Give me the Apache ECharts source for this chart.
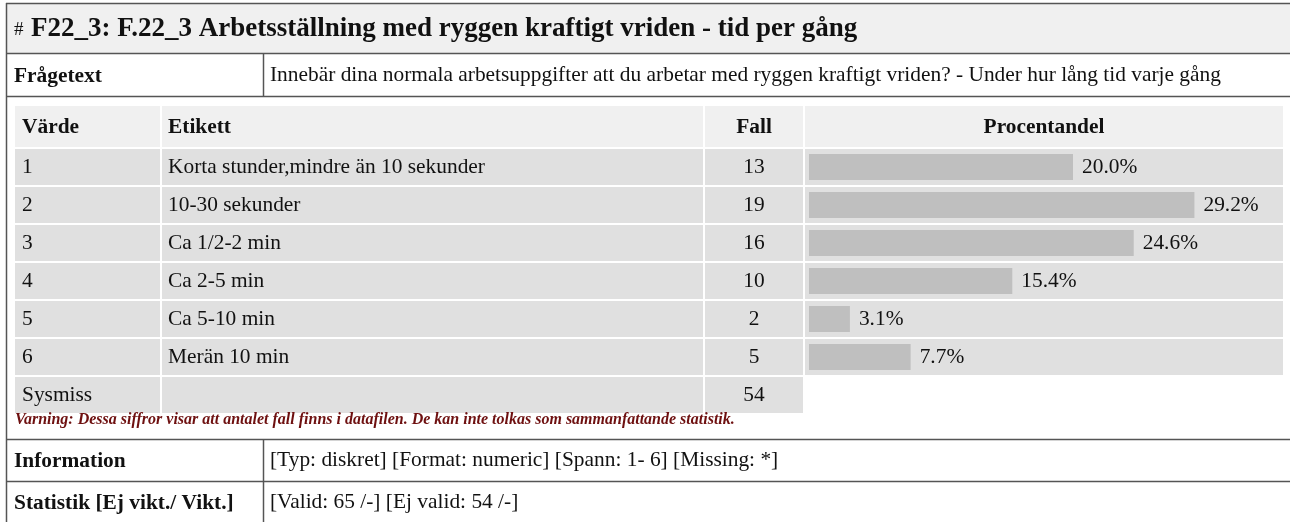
<!DOCTYPE html>
<html>
<head>
<meta charset="utf-8">
<script src="https://cdn.jsdelivr.net/npm/echarts@6/dist/echarts.min.js"></script>
<style>
  html, body { margin: 0; padding: 0; background: #fff; }
  #main { width: 1290px; height: 522px; }
</style>
</head>
<body>
<div id="main"></div>
<script>
// data
var values = ['1', '2', '3', '4', '5', '6'];
var labels = ['Korta stunder,mindre än 10 sekunder', '10-30 sekunder', 'Ca 1/2-2 min', 'Ca 2-5 min', 'Ca 5-10 min', 'Merän 10 min'];
var counts = [13, 19, 16, 10, 2, 5];
var percents = [20.0, 29.2, 24.6, 15.4, 3.1, 7.7];
var sysmiss = 54;

var title = 'F22_3: F.22_3 Arbetsställning med ryggen kraftigt vriden - tid per gång';
var question = 'Innebär dina normala arbetsuppgifter att du arbetar med ryggen kraftigt vriden? - Under hur lång tid varje gång';
var warning = 'Varning: Dessa siffror visar att antalet fall finns i datafilen. De kan inte tolkas som sammanfattande statistik.';
var info = '[Typ: diskret] [Format: numeric] [Spann: 1- 6] [Missing: *]';
var stats = '[Valid: 65 /-] [Ej valid: 54 /-]';

var serif = '"Liberation Serif", "Times New Roman", serif';
var fs = '21.4px ';
var txt = '#111';
var lineCol = '#555';

var chartDom = document.getElementById('main');
var myChart = echarts.init(chartDom, null, { renderer: 'canvas' });

// table geometry
var cols = [
  { x: 15, w: 145 },
  { x: 162, w: 541 },
  { x: 705, w: 98 },
  { x: 805, w: 478 }
];
var headTop = 106, headH = 41, rowTop = 149, rowH = 38;

var g = [];
function rect(x, y, w, h, fill) {
  g.push({ type: 'rect', silent: true, shape: { x: x, y: y, width: w, height: h }, style: { fill: fill } });
}
function line(x1, y1, x2, y2) {
  g.push({ type: 'line', silent: true, shape: { x1: x1, y1: y1, x2: x2, y2: y2 }, style: { stroke: lineCol, lineWidth: 1.5 } });
}
function text(s, x, y, font, align, color) {
  g.push({ type: 'text', silent: true, x: x, y: y, style: {
    text: s, font: font, fill: color || txt, textAlign: align || 'left', textVerticalAlign: 'middle'
  } });
}

// title band + frame
rect(7, 4, 1283, 49, '#f0f0f0');
line(6, 3.5, 1290, 3.5);
line(6.5, 3, 6.5, 522);
line(6, 53.5, 1290, 53.5);
line(6, 96.5, 1290, 96.5);
line(263.5, 53, 263.5, 96);
text('#', 14, 30, '19px ' + serif);
text(title, 31, 29, 'bold 27px ' + serif);
text('Frågetext', 14, 76, 'bold ' + fs + serif);
text(question, 270, 75, fs + serif);

// header row
cols.forEach(function (c) { rect(c.x, headTop, c.w, headH, '#f0f0f0'); });
var hy = headTop + headH / 2 + 1;
text('Värde', 22, hy, 'bold ' + fs + serif);
text('Etikett', 168, hy, 'bold ' + fs + serif);
text('Fall', cols[2].x + cols[2].w / 2, hy, 'bold ' + fs + serif, 'center');
text('Procentandel', cols[3].x + cols[3].w / 2, hy, 'bold ' + fs + serif, 'center');

// data rows
values.forEach(function (v, i) {
  var y = rowTop + i * rowH;
  cols.forEach(function (c) { rect(c.x, y, c.w, rowH - 2, '#e0e0e0'); });
  var cy = y + (rowH - 2) / 2;
  text(v, 22, cy, fs + serif);
  text(labels[i], 168, cy, fs + serif);
  text(String(counts[i]), cols[2].x + cols[2].w / 2, cy, fs + serif, 'center');
});
var sy = rowTop + values.length * rowH;
cols.slice(0, 3).forEach(function (c) { rect(c.x, sy, c.w, rowH - 2, '#e0e0e0'); });
text('Sysmiss', 22, sy + (rowH - 2) / 2, fs + serif);
text(String(sysmiss), cols[2].x + cols[2].w / 2, sy + (rowH - 2) / 2, fs + serif, 'center');

text(warning, 15, 420, 'italic bold 16px ' + serif, 'left', '#6e1010');

// info block
line(6, 439.5, 1290, 439.5);
line(6, 481.5, 1290, 481.5);
line(263.5, 439, 263.5, 522);
text('Information', 14, 461, 'bold ' + fs + serif);
text(info, 270, 460, fs + serif);
text('Statistik [Ej vikt./ Vikt.]', 14, 503, 'bold ' + fs + serif);
text(stats, 270, 502, fs + serif);

var option = {
  animation: false,
  backgroundColor: '#fff',
  graphic: { elements: g },
  grid: { left: 809, top: rowTop - 1, width: 462, height: values.length * rowH, outerBoundsMode: 'none' },
  xAxis: { type: 'value', min: 0, max: 35, show: false },
  yAxis: { type: 'category', data: values, inverse: true, show: false },
  series: [{
    type: 'bar',
    data: percents,
    barWidth: 26,
    z: 10,
    itemStyle: { color: '#bfbfbf' },
    label: {
      show: true,
      position: 'right',
      distance: 9,
      color: txt,
      fontFamily: serif,
      fontSize: 21.4,
      formatter: function (p) { return p.value.toFixed(1) + '%'; }
    }
  }]
};

myChart.setOption(option);
window.addEventListener('resize', function () { myChart.resize(); });
</script>
</body>
</html>
